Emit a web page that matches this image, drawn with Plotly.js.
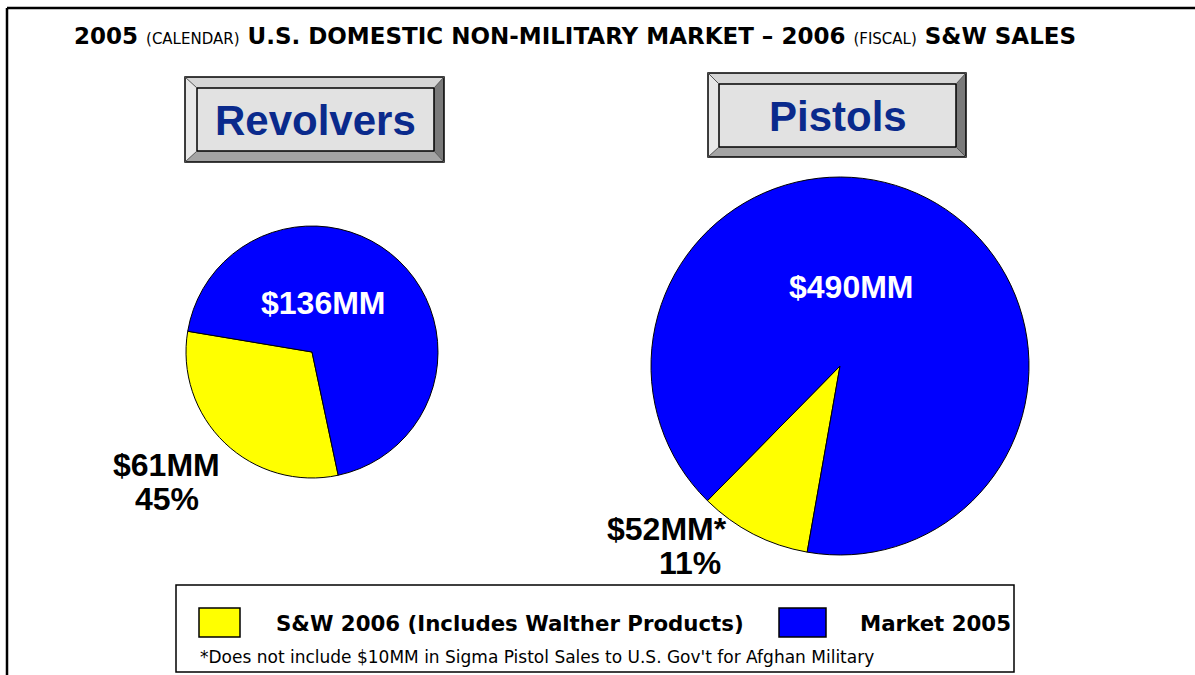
<!DOCTYPE html>
<html>
<head>
<meta charset="utf-8">
<script src="https://cdn.plot.ly/plotly-3.0.1.min.js"></script>
<style>html,body{margin:0;padding:0;background:#fff;}#chart{width:1195px;height:675px;}</style>
</head>
<body>
<div id="chart"></div>
<script>
// ---- data ----
const categories = ['S&W 2006 (Includes Walther Products)', 'Market 2005'];
const colors = ['#FFFF00', '#0000FF'];
const revolverValues = [61, 136];
const pistolValues = [52, 490];
const revolverText = ['$61MM', '$136MM'];
const pistolText = ['$52MM*', '$490MM'];
const sharePct = ['45%', '11%'];
const panelTitles = ['Revolvers', 'Pistols'];
const footnote = "*Does not include $10MM in Sigma Pistol Sales to U.S. Gov't for Afghan Military";

// ---- helpers for layout positions (pixels -> paper) ----
const W = 1195, H = 675;
const px = x => x / W;
const py = y => 1 - y / H;
const FONT = 'Liberation Sans, Arial, sans-serif';
const WIDE = 'DejaVu Sans, Verdana, sans-serif';

const traces = [
  {
    type: 'pie', values: revolverValues, labels: categories, sort: false,
    direction: 'clockwise', rotation: 168, textinfo: 'none', hoverinfo: 'label+value',
    marker: {colors: colors, line: {color: '#000', width: 1}},
    domain: {x: [px(186), px(438)], y: [py(478), py(226)]}, showlegend: false
  },
  {
    type: 'pie', values: pistolValues, labels: categories, sort: false,
    direction: 'clockwise', rotation: 190, textinfo: 'none', hoverinfo: 'label+value',
    marker: {colors: colors, line: {color: '#000', width: 1}},
    domain: {x: [px(651), px(1029)], y: [py(555), py(177)]}, showlegend: false
  }
];

const shapes = [];
const annotations = [];
function label(x, y, text, font, xanchor) {
  annotations.push({xref: 'paper', yref: 'paper', x: px(x), y: py(y), text: text, showarrow: false,
    xanchor: xanchor || 'center', yanchor: 'middle', font: font});
}

// outer frame (top and left)
shapes.push({type: 'line', xref: 'paper', yref: 'paper', x0: px(7), x1: px(1195), y0: py(8), y1: py(8), line: {color: '#000', width: 2.5}});
shapes.push({type: 'line', xref: 'paper', yref: 'paper', x0: px(7), x1: px(7), y0: py(8), y1: py(675), line: {color: '#000', width: 2.5}});

// bevel title boxes
function bevelBox(o, i, text) {
  const P = (x, y) => px(x) + ',' + py(y);
  const poly = (pts, fill) => shapes.push({type: 'path', xref: 'paper', yref: 'paper',
    path: 'M' + pts.map(p => P(p[0], p[1])).join(' L') + ' Z', fillcolor: fill, line: {width: 0}});
  poly([[o[0], o[1]], [o[2], o[1]], [i[2], i[1]], [i[0], i[1]]], '#d6d6d6');
  poly([[o[0], o[1]], [i[0], i[1]], [i[0], i[3]], [o[0], o[3]]], '#e8e8e8');
  poly([[o[2], o[1]], [o[2], o[3]], [i[2], i[3]], [i[2], i[1]]], '#7a7a7a');
  poly([[o[0], o[3]], [i[0], i[3]], [i[2], i[3]], [o[2], o[3]]], '#a4a4a4');
  shapes.push({type: 'rect', xref: 'paper', yref: 'paper', x0: px(i[0]), x1: px(i[2]), y0: py(i[3]), y1: py(i[1]),
    fillcolor: '#e2e2e2', line: {color: '#000', width: 1.5}});
  shapes.push({type: 'rect', xref: 'paper', yref: 'paper', x0: px(o[0]), x1: px(o[2]), y0: py(o[3]), y1: py(o[1]),
    fillcolor: 'rgba(0,0,0,0)', line: {color: '#000', width: 1.5}});
  [[0, 1], [2, 1], [0, 3], [2, 3]].forEach(c => shapes.push({type: 'line', xref: 'paper', yref: 'paper',
    x0: px(o[c[0]]), y0: py(o[c[1]]), x1: px(i[c[0]]), y1: py(i[c[1]]), line: {color: '#555', width: 1}}));
  label((i[0] + i[2]) / 2, (i[1] + i[3]) / 2 + 1, '<b>' + text + '</b>', {family: FONT, size: 42, color: '#0a2a8c'});
}
bevelBox([185, 77, 444, 162], [197, 88, 434, 151], panelTitles[0]);
bevelBox([708, 73, 966, 157], [719, 84, 956, 147], panelTitles[1]);

// main title
label(72, 36, '<b>2005 </b><span style="font-size:15px;font-weight:normal">(CALENDAR)</span><b> U.S. DOMESTIC NON-MILITARY MARKET – 2006 </b><span style="font-size:15px;font-weight:normal">(FISCAL)</span><b> S&W SALES</b>',
  {family: WIDE, size: 23, color: '#000'}, 'left');

// slice labels
label(323, 303, '<b>' + revolverText[1] + '</b>', {family: FONT, size: 32, color: '#fff'});
label(851, 287, '<b>' + pistolText[1] + '</b>', {family: FONT, size: 32, color: '#fff'});
label(166, 465, '<b>' + revolverText[0] + '</b>', {family: FONT, size: 32, color: '#000'});
label(167, 499, '<b>' + sharePct[0] + '</b>', {family: FONT, size: 32, color: '#000'});
label(667, 529, '<b>' + pistolText[0] + '</b>', {family: FONT, size: 32, color: '#000'});
label(690, 563, '<b>' + sharePct[1] + '</b>', {family: FONT, size: 32, color: '#000'});

// custom legend box
shapes.push({type: 'rect', xref: 'paper', yref: 'paper', x0: px(176), x1: px(1014), y0: py(672), y1: py(585),
  fillcolor: '#fff', line: {color: '#000', width: 1.5}});
shapes.push({type: 'rect', xref: 'paper', yref: 'paper', x0: px(199), x1: px(240), y0: py(637), y1: py(608),
  fillcolor: colors[0], line: {color: '#000', width: 1.5}});
shapes.push({type: 'rect', xref: 'paper', yref: 'paper', x0: px(779), x1: px(826), y0: py(637), y1: py(608),
  fillcolor: colors[1], line: {color: '#000', width: 1.5}});
label(274, 623, '<b>' + categories[0] + '</b>', {family: WIDE, size: 21.3, color: '#000'}, 'left');
label(858, 623, '<b>' + categories[1] + '</b>', {family: WIDE, size: 21.3, color: '#000'}, 'left');
label(198, 657, footnote, {family: WIDE, size: 17, color: '#000'}, 'left');

const layout = {
  width: W, height: H, margin: {l: 0, r: 0, t: 0, b: 0},
  paper_bgcolor: '#fff', plot_bgcolor: '#fff', showlegend: false,
  shapes: shapes, annotations: annotations
};

Plotly.newPlot('chart', traces, layout, {displayModeBar: false, staticPlot: true});
</script>
</body>
</html>
